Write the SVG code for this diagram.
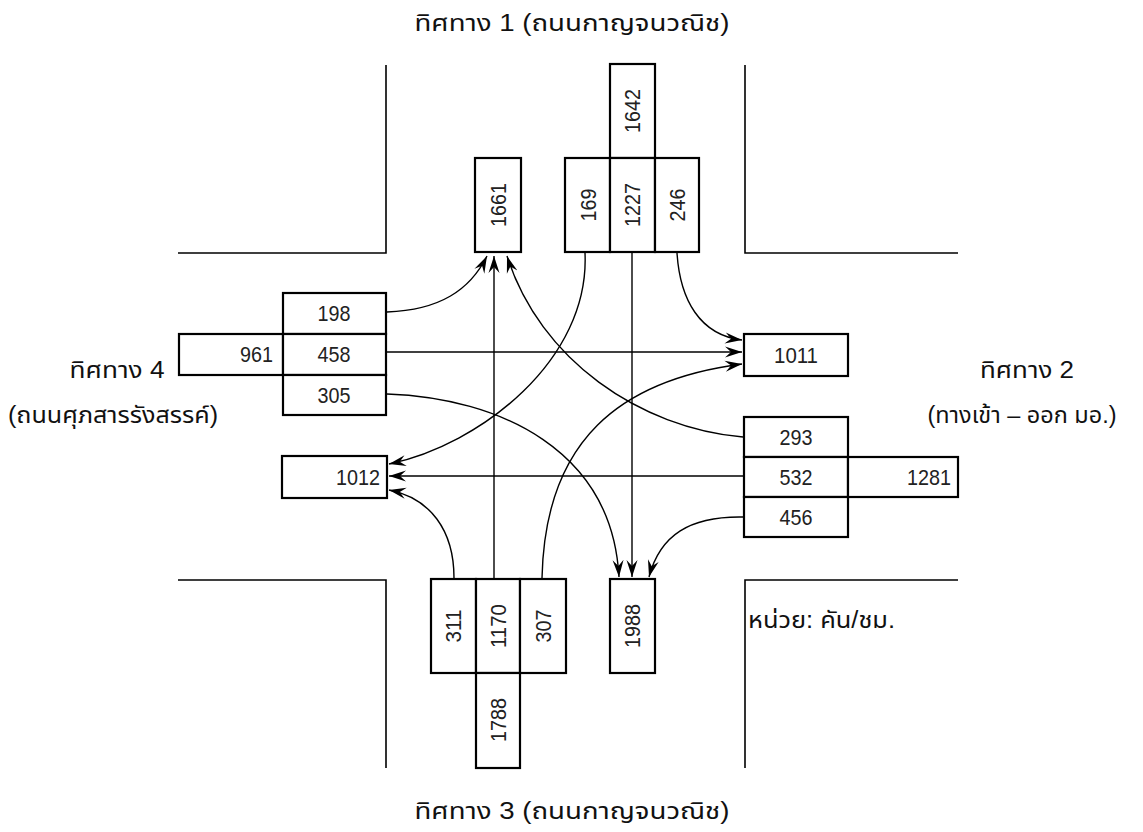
<svg xmlns="http://www.w3.org/2000/svg" width="1143" height="832" viewBox="0 0 1143 832">
<style>
.road{fill:none;stroke:#000;stroke-width:1.6}
.box{fill:#fff;stroke:#000;stroke-width:2.2}
.num{font-family:"Liberation Sans",Arial,sans-serif;font-size:22px;fill:#222}
.lbl{font-family:"Liberation Sans","Noto Sans Thai","Noto Sans",sans-serif;font-size:23px;fill:#111}
.flow{fill:none;stroke:#000;stroke-width:1.4;marker-end:url(#ah)}
</style>
<defs>
<marker id="ah" markerUnits="userSpaceOnUse" viewBox="-17 -7 18 14" refX="0" refY="0" markerWidth="18" markerHeight="14" orient="auto">
<path d="M0,0 L-17,-5.5 L-11,0 L-17,5.5 Z" fill="#000"/>
</marker>
</defs>
<rect width="1143" height="832" fill="#fff"/>
<g id="roads">
<path class="road" d="M386,65 V253 H178"/>
<path class="road" d="M745,65 V253 H958"/>
<path class="road" d="M178,580 H386 V768"/>
<path class="road" d="M958,580 H745 V768"/>
</g>
<g id="labels">
<text class="lbl" x="572" y="31" text-anchor="middle" textLength="315" lengthAdjust="spacingAndGlyphs">ทิศทาง 1 (ถนนกาญจนวณิช)</text>
<text class="lbl" x="572" y="819" text-anchor="middle" textLength="315" lengthAdjust="spacingAndGlyphs">ทิศทาง 3 (ถนนกาญจนวณิช)</text>
<text class="lbl" x="117" y="378" text-anchor="middle" textLength="95" lengthAdjust="spacingAndGlyphs">ทิศทาง 4</text>
<text class="lbl" x="113" y="423" text-anchor="middle" textLength="210" lengthAdjust="spacingAndGlyphs">(ถนนศุภสารรังสรรค์)</text>
<text class="lbl" x="1027" y="378" text-anchor="middle" textLength="94" lengthAdjust="spacingAndGlyphs">ทิศทาง 2</text>
<text class="lbl" x="1022" y="423" text-anchor="middle" textLength="189" lengthAdjust="spacingAndGlyphs">(ทางเข้า – ออก มอ.)</text>
<text class="lbl" x="748" y="628" textLength="147" lengthAdjust="spacingAndGlyphs">หน่วย: คัน/ชม.</text>
</g>
<g id="connectors">
<path class="flow" d="M494,579 V256"/>
<path class="flow" d="M632,253 V577"/>
<path class="flow" d="M387,352 H742"/>
<path class="flow" d="M743,476 H389"/>
<path class="flow" d="M387,312 C440,310 470,290 487,256"/>
<path class="flow" d="M743,437 C640,428 540,360 507,256"/>
<path class="flow" d="M585,253 C590,360 480,445 389,464"/>
<path class="flow" d="M454,578 C454,530 430,498 389,490"/>
<path class="flow" d="M387,394 C500,398 612,450 619,577"/>
<path class="flow" d="M743,517 C690,516 660,535 649,577"/>
<path class="flow" d="M542,578 C545,440 620,380 742,364"/>
<path class="flow" d="M677,253 C680,300 700,335 742,340"/>
</g>
<g id="node-1661"><rect class="box" x="475" y="158" width="46" height="94"/><text class="num" transform="translate(506,205) rotate(-90)" text-anchor="middle" textLength="44" lengthAdjust="spacingAndGlyphs">1661</text></g>
<g id="node-1642"><rect class="box" x="610" y="64" width="45" height="94"/><text class="num" transform="translate(640,111) rotate(-90)" text-anchor="middle" textLength="44" lengthAdjust="spacingAndGlyphs">1642</text></g>
<g id="node-north-in">
<rect class="box" x="565" y="158" width="45" height="94"/>
<rect class="box" x="610" y="158" width="45" height="94"/>
<rect class="box" x="655" y="158" width="44" height="94"/>
<text class="num" transform="translate(596,205) rotate(-90)" text-anchor="middle" textLength="33" lengthAdjust="spacingAndGlyphs">169</text>
<text class="num" transform="translate(640,205) rotate(-90)" text-anchor="middle" textLength="44" lengthAdjust="spacingAndGlyphs">1227</text>
<text class="num" transform="translate(685,205) rotate(-90)" text-anchor="middle" textLength="33" lengthAdjust="spacingAndGlyphs">246</text>
</g>
<g id="node-west-in">
<rect class="box" x="179" y="334" width="104" height="41"/>
<rect class="box" x="283" y="293" width="103" height="41"/>
<rect class="box" x="283" y="334" width="103" height="41"/>
<rect class="box" x="283" y="375" width="103" height="40"/>
<text class="num" x="273" y="362" text-anchor="end" textLength="33" lengthAdjust="spacingAndGlyphs">961</text>
<text class="num" x="334" y="321" text-anchor="middle" textLength="33" lengthAdjust="spacingAndGlyphs">198</text>
<text class="num" x="334" y="362" text-anchor="middle" textLength="33" lengthAdjust="spacingAndGlyphs">458</text>
<text class="num" x="334" y="403" text-anchor="middle" textLength="33" lengthAdjust="spacingAndGlyphs">305</text>
</g>
<g id="node-1012"><rect class="box" x="282" y="456" width="105" height="42"/><text class="num" x="380" y="485" text-anchor="end" textLength="44" lengthAdjust="spacingAndGlyphs">1012</text></g>
<g id="node-1011"><rect class="box" x="744" y="334" width="104" height="42"/><text class="num" x="796" y="363" text-anchor="middle" textLength="44" lengthAdjust="spacingAndGlyphs">1011</text></g>
<g id="node-east-in">
<rect class="box" x="744" y="417" width="104" height="40"/>
<rect class="box" x="744" y="457" width="104" height="40"/>
<rect class="box" x="744" y="497" width="104" height="40"/>
<rect class="box" x="848" y="457" width="110" height="40"/>
<text class="num" x="796" y="445" text-anchor="middle" textLength="33" lengthAdjust="spacingAndGlyphs">293</text>
<text class="num" x="796" y="485" text-anchor="middle" textLength="33" lengthAdjust="spacingAndGlyphs">532</text>
<text class="num" x="796" y="525" text-anchor="middle" textLength="33" lengthAdjust="spacingAndGlyphs">456</text>
<text class="num" x="951" y="485" text-anchor="end" textLength="44" lengthAdjust="spacingAndGlyphs">1281</text>
</g>
<g id="node-south-in">
<rect class="box" x="431" y="579" width="45" height="94"/>
<rect class="box" x="476" y="579" width="44" height="94"/>
<rect class="box" x="520" y="579" width="46" height="94"/>
<text class="num" transform="translate(461,626) rotate(-90)" text-anchor="middle" textLength="33" lengthAdjust="spacingAndGlyphs">311</text>
<text class="num" transform="translate(506,626) rotate(-90)" text-anchor="middle" textLength="44" lengthAdjust="spacingAndGlyphs">1170</text>
<text class="num" transform="translate(551,626) rotate(-90)" text-anchor="middle" textLength="33" lengthAdjust="spacingAndGlyphs">307</text>
</g>
<g id="node-1788"><rect class="box" x="476" y="673" width="44" height="95"/><text class="num" transform="translate(506,720) rotate(-90)" text-anchor="middle" textLength="44" lengthAdjust="spacingAndGlyphs">1788</text></g>
<g id="node-1988"><rect class="box" x="610" y="579" width="45" height="94"/><text class="num" transform="translate(640,626) rotate(-90)" text-anchor="middle" textLength="44" lengthAdjust="spacingAndGlyphs">1988</text></g>
</svg>
